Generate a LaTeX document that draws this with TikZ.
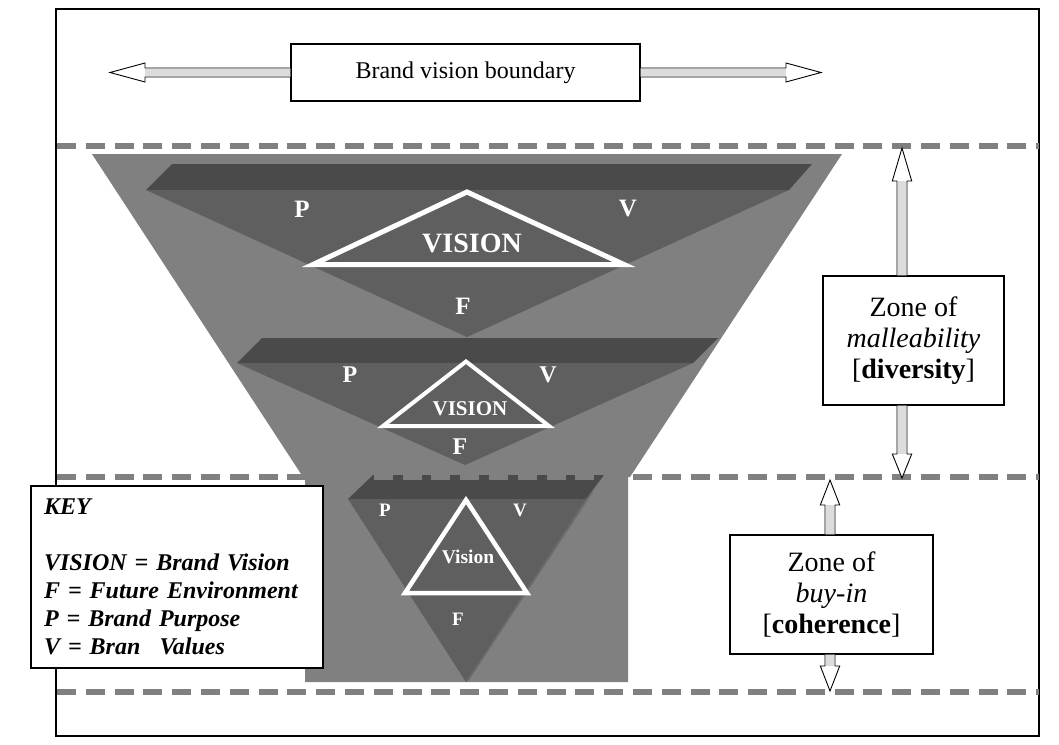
\documentclass[tikz,border=0pt]{standalone}
\usepackage{fontspec}
\setmainfont{Liberation Serif}
\usetikzlibrary{calc}
\definecolor{funnelgray}{HTML}{808080}
\definecolor{bandgray}{HTML}{4A4A4A}
\definecolor{trigray}{HTML}{5F5F5F}
\definecolor{facegray}{HTML}{6A6A6A}
\definecolor{shaftgray}{HTML}{DCDCDC}
\begin{document}
\begin{tikzpicture}[x=1pt,y=-1pt,
 frameline/.style={draw=black,line width=1.5pt},
 boxnode/.style={draw=black,line width=1.2pt,fill=white,inner sep=0pt,align=center},
 zoneline/.style={draw=funnelgray,line width=6pt,dash pattern=on 19pt off 9.8pt},
 arrowbody/.style={draw=black,line width=0.9pt,fill=white,line join=miter},
 shaftin/.style={draw=shaftgray,line width=7pt},
 visiontri/.style={draw=white,fill=trigray,line join=miter},
 lbl/.style={text=white,inner sep=0pt}
]
\useasboundingbox (0,0) rectangle (1059,744);
\fill[white] (0,0) rectangle (1059,744);
\draw[frameline] (56,9) rectangle (1039,736);
% funnel
\fill[funnelgray] (92,154) -- (842,154) -- (630,477) -- (628,477) -- (628,682) -- (305,682) -- (305,477) -- (303,477) -- cycle;
% level 1
\fill[bandgray] (172,164) -- (812,164) -- (789,190) -- (146,190) -- cycle;
\fill[trigray] (146,190) -- (789,190) -- (467,337) -- cycle;
\draw[visiontri, line width=5pt] (467,192) -- (624,264.5) -- (313,264.5) -- cycle;
\node[lbl,font=\fontsize{25}{25}\selectfont\bfseries] (p1) at (302,209) {P};
\node[lbl,font=\fontsize{25}{25}\selectfont\bfseries] (v1) at (628,209) {V};
\node[lbl,font=\fontsize{28}{28}\selectfont\bfseries] (vis1) at (472,243) {VISION};
\node[lbl,font=\fontsize{25}{25}\selectfont\bfseries] (f1) at (463,306) {F};
% level 2
\fill[bandgray] (262,338) -- (718,338) -- (693,363) -- (237,363) -- cycle;
\fill[trigray] (237,363) -- (693,363) -- (465,465) -- cycle;
\draw[visiontri, line width=4pt] (466,361.5) -- (549,426) -- (383,426) -- cycle;
\node[lbl,font=\fontsize{24}{24}\selectfont\bfseries] (p2) at (350,375) {P};
\node[lbl,font=\fontsize{24}{24}\selectfont\bfseries] (v2) at (548,375) {V};
\node[lbl,font=\fontsize{21}{21}\selectfont\bfseries] (vis2) at (470,409) {VISION};
\node[lbl,font=\fontsize{24}{24}\selectfont\bfseries] (f2) at (460,447) {F};
% level 3
\fill[bandgray] (373,475) -- (604,475) -- (586,499) -- (348,499) -- cycle;
\fill[trigray] (348,499) -- (586,499) -- (466,682) -- cycle;
\fill[facegray] (586,499) -- (595,489) -- (469,680) -- (466,682) -- cycle;
\draw[visiontri, line width=4.5pt] (466,500) -- (527,593) -- (405,593) -- cycle;
\node[lbl,font=\fontsize{19}{19}\selectfont\bfseries] (p3) at (385,510) {P};
\node[lbl,font=\fontsize{19}{19}\selectfont\bfseries] (v3) at (520,510) {V};
\node[lbl,font=\fontsize{19.5}{19.5}\selectfont\bfseries] (vis3) at (468,557) {Vision};
\node[lbl,font=\fontsize{19}{19}\selectfont\bfseries] (f3) at (458,619) {F};
% zone lines
\draw[zoneline] (57,146) -- (1039,146);
\draw[zoneline] (57,477) -- (1039,477);
\draw[zoneline] (57,692) -- (1039,692);
% top box and arrows
\node[boxnode,minimum width=349pt,minimum height=57pt,font=\fontsize{24}{28}\selectfont] (bvb) at (465.5,72.5) {Brand vision boundary};
\coordinate (lt) at (110,72.5);
\coordinate (rt) at (821,72.5);
\draw[arrowbody] ($(bvb.west)+(0,-4.5)$) -- ($(lt)+(35,-4.5)$) -- ($(lt)+(35,-9.5)$) -- (lt) -- ($(lt)+(35,9.5)$) -- ($(lt)+(35,4.5)$) -- ($(bvb.west)+(0,4.5)$);
\draw[shaftin] (bvb.west) -- ($(lt)+(35,0)$);
\draw[arrowbody] ($(bvb.east)+(0,-4.5)$) -- ($(rt)+(-35,-4.5)$) -- ($(rt)+(-35,-9.5)$) -- (rt) -- ($(rt)+(-35,9.5)$) -- ($(rt)+(-35,4.5)$) -- ($(bvb.east)+(0,4.5)$);
\draw[shaftin] (bvb.east) -- ($(rt)+(-35,0)$);
% zone boxes
\node[boxnode,minimum width=181pt,minimum height=129pt,font=\fontsize{28}{31}\selectfont] (z1) at (913.5,340.5) {Zone of\\ \textit{malleability}\\ {[}\textbf{diversity}{]}};
\node[boxnode,minimum width=203pt,minimum height=119pt,font=\fontsize{28}{31}\selectfont] (z2) at (831.5,594.5) {Zone of\\ \textit{buy-in}\\ {[}\textbf{coherence}{]}};
% zone arrows
\coordinate (u1) at (902,148);
\coordinate (d1) at (902,478);
\coordinate (b1u) at (u1 |- z1.north);
\coordinate (b1d) at (d1 |- z1.south);
\draw[arrowbody] ($(b1u)+(-5,0)$) -- ($(u1)+(-5,33)$) -- ($(u1)+(-9.7,33)$) -- (u1) -- ($(u1)+(9.7,33)$) -- ($(u1)+(5,33)$) -- ($(b1u)+(5,0)$);
\draw[shaftin,line width=8pt] (b1u) -- ($(u1)+(0,33)$);
\draw[arrowbody] ($(b1d)+(-5,0)$) -- ($(d1)+(-5,-24)$) -- ($(d1)+(-9.7,-24)$) -- (d1) -- ($(d1)+(9.7,-24)$) -- ($(d1)+(5,-24)$) -- ($(b1d)+(5,0)$);
\draw[shaftin,line width=8pt] (b1d) -- ($(d1)+(0,-24)$);
\coordinate (u2) at (830,480);
\coordinate (d2) at (830,691);
\coordinate (b2u) at (u2 |- z2.north);
\coordinate (b2d) at (d2 |- z2.south);
\draw[arrowbody] ($(b2u)+(-5,0)$) -- ($(u2)+(-5,25)$) -- ($(u2)+(-9.7,25)$) -- (u2) -- ($(u2)+(9.7,25)$) -- ($(u2)+(5,25)$) -- ($(b2u)+(5,0)$);
\draw[shaftin,line width=8pt] (b2u) -- ($(u2)+(0,25)$);
\draw[arrowbody] ($(b2d)+(-5,0)$) -- ($(d2)+(-5,-25)$) -- ($(d2)+(-9.7,-25)$) -- (d2) -- ($(d2)+(9.7,-25)$) -- ($(d2)+(5,-25)$) -- ($(b2d)+(5,0)$);
\draw[shaftin,line width=8pt] (b2d) -- ($(d2)+(0,-25)$);
% key
\node[draw=black,line width=1.2pt,fill=white,minimum width=292pt,minimum height=182pt,inner xsep=13pt,inner ysep=0pt,text width=266pt,align=left,font=\fontsize{24}{28}\selectfont\bfseries\itshape] (key) at (177,577) {KEY\\[28pt] VISION = Brand Vision\\ F = Future Environment\\ P = Brand Purpose\\ V = Bran\hspace*{0.8em}Values};
\end{tikzpicture}
\end{document}
